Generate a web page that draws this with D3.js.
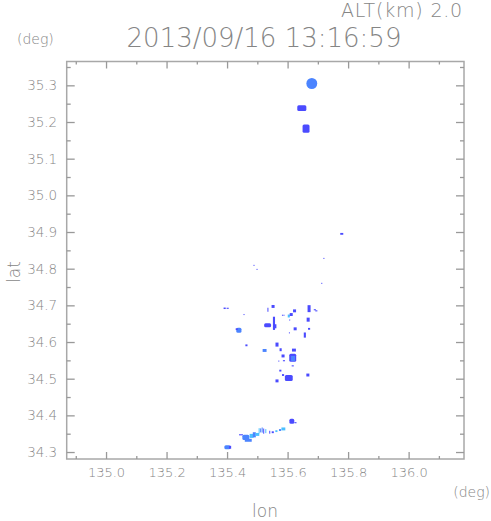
<!DOCTYPE html>
<html>
<head>
<meta charset="utf-8">
<script src="https://cdn.jsdelivr.net/npm/d3@7"></script>
<style>
  body { margin: 0; background: #fff; }
  text { font-family: "DejaVu Sans", sans-serif; font-weight: 200; fill: #858585; }
  .axis path { display: none; }
  .axis line { stroke: #999; stroke-width: 1.3; }
</style>
</head>
<body>
<svg id="chart" width="491" height="521"></svg>
<script>
// ticks
const lonTicks = [135.0, 135.2, 135.4, 135.6, 135.8, 136.0];
const lonMinor = [134.9, 135.1, 135.3, 135.5, 135.7, 135.9, 136.1];
const latTicks = [34.3, 34.4, 34.5, 34.6, 34.7, 34.8, 34.9, 35.0, 35.1, 35.2, 35.3];
const latMinor = [34.35, 34.45, 34.55, 34.65, 34.75, 34.85, 34.95, 35.05, 35.15, 35.25, 35.35];

// echo cells: [lon, lat, width(deg lon), height(deg lat), level]
const echoTop = [
  [135.680, 35.305, 0.036, 0.030, 2],
  [135.647, 35.238, 0.030, 0.016, 1],
  [135.661, 35.182, 0.023, 0.022, 1],
  [135.779, 34.895, 0.010, 0.005, 1],
  [135.720, 34.828, 0.0033, 0.003, 1],
  [135.713, 34.760, 0.0033, 0.003, 1],
  [135.489, 34.809, 0.0033, 0.003, 1],
  [135.499, 34.798, 0.0033, 0.003, 1]
];
const echoMid = [
  [135.392, 34.692, 0.007, 0.004, 1],
  [135.402, 34.692, 0.007, 0.003, 1],
  [135.456, 34.675, 0.0033, 0.003, 1],
  [135.439, 34.632, 0.017, 0.014, 2],
  [135.432, 34.635, 0.007, 0.005, 1],
  [135.464, 34.591, 0.007, 0.005, 1],
  [135.552, 34.697, 0.010, 0.008, 1],
  [135.535, 34.688, 0.0033, 0.011, 1],
  [135.534, 34.646, 0.023, 0.011, 1],
  [135.555, 34.651, 0.007, 0.036, 1],
  [135.558, 34.643, 0.010, 0.011, 1],
  [135.583, 34.673, 0.0033, 0.003, 1],
  [135.588, 34.673, 0.0033, 0.003, 1],
  [135.604, 34.671, 0.007, 0.008, 3],
  [135.612, 34.675, 0.010, 0.008, 1],
  [135.607, 34.660, 0.0033, 0.003, 1],
  [135.623, 34.685, 0.010, 0.008, 1],
  [135.625, 34.636, 0.010, 0.008, 1],
  [135.606, 34.625, 0.0033, 0.003, 1],
  [135.671, 34.691, 0.010, 0.019, 1],
  [135.690, 34.688, 0.007, 0.003, 1],
  [135.695, 34.685, 0.007, 0.003, 1],
  [135.668, 34.661, 0.010, 0.011, 1],
  [135.671, 34.636, 0.007, 0.005, 1],
  [135.657, 34.619, 0.007, 0.014, 1],
  [135.565, 34.593, 0.010, 0.011, 1],
  [135.577, 34.579, 0.007, 0.008, 1],
  [135.524, 34.577, 0.013, 0.008, 2],
  [135.621, 34.578, 0.013, 0.008, 1],
  [135.585, 34.562, 0.010, 0.008, 1],
  [135.617, 34.557, 0.023, 0.022, 1],
  [135.618, 34.555, 0.013, 0.014, 2],
  [135.588, 34.549, 0.007, 0.003, 1],
  [135.571, 34.548, 0.0033, 0.003, 1],
  [135.617, 34.535, 0.007, 0.003, 1],
  [135.576, 34.522, 0.007, 0.005, 1],
  [135.585, 34.510, 0.007, 0.005, 1],
  [135.604, 34.502, 0.026, 0.016, 1],
  [135.565, 34.494, 0.010, 0.008, 1],
  [135.667, 34.510, 0.010, 0.008, 1]
];
const echoLow = [
  [135.614, 34.384, 0.016, 0.014, 1],
  [135.626, 34.380, 0.007, 0.003, 1],
  [135.401, 34.313, 0.020, 0.011, 2],
  [135.410, 34.313, 0.007, 0.008, 1],
  [135.446, 34.347, 0.013, 0.003, 1],
  [135.462, 34.340, 0.023, 0.014, 2],
  [135.470, 34.332, 0.023, 0.008, 2],
  [135.481, 34.344, 0.013, 0.011, 3],
  [135.490, 34.347, 0.010, 0.014, 2],
  [135.500, 34.348, 0.013, 0.008, 3],
  [135.506, 34.358, 0.0033, 0.014, 3],
  [135.511, 34.359, 0.0033, 0.011, 2],
  [135.516, 34.360, 0.0033, 0.014, 2],
  [135.521, 34.357, 0.0033, 0.014, 1],
  [135.528, 34.357, 0.0033, 0.011, 3],
  [135.541, 34.354, 0.0033, 0.008, 1],
  [135.551, 34.354, 0.007, 0.005, 1],
  [135.563, 34.357, 0.007, 0.005, 3],
  [135.575, 34.360, 0.007, 0.005, 2],
  [135.586, 34.363, 0.013, 0.008, 3]
];

const levelColor = d3.scaleOrdinal().domain([1, 2, 3]).range(["#4b4bff", "#4b84ff", "#4cc0ff"]);

const svg = d3.select("#chart");
const plotL = 66.7, plotR = 464, plotT = 61.5, plotB = 459;

const x = d3.scaleLinear().domain([134.870, 136.183]).range([plotL, plotR]);
const y = d3.scaleLinear().domain([34.281, 35.365]).range([plotB, plotT]);

// echoes
const cells = echoTop.concat(echoMid, echoLow);
svg.append("g").selectAll("rect")
  .data(cells)
  .join("rect")
  .attr("x", d => x(d[0] - d[2] / 2))
  .attr("y", d => y(d[1] + d[3] / 2))
  .attr("width", d => Math.max(1, x(d[0] + d[2] / 2) - x(d[0] - d[2] / 2)))
  .attr("height", d => Math.max(1, y(d[1] - d[3] / 2) - y(d[1] + d[3] / 2)))
  .attr("rx", d => {
    const m = Math.min(x(d[2]) - x(0), y(0) - y(d[3]));
    return m > 8 ? m / 2 : (m > 4 ? 1.5 : 0);
  })
  .attr("fill", d => levelColor(d[4]));

// frame
svg.append("rect")
  .attr("x", plotL).attr("y", plotT)
  .attr("width", plotR - plotL).attr("height", plotB - plotT)
  .attr("fill", "none").attr("stroke", "#a8a8a8").attr("stroke-width", 1.5);

// axes
svg.append("g").attr("class", "axis").attr("transform", `translate(0,${plotB})`)
  .call(d3.axisBottom(x).tickValues(lonTicks).tickSize(-7).tickPadding(9).tickFormat(d3.format(".1f")))
  .selectAll("text").style("font-size", "13px").attr("fill", "#858585");
svg.append("g").attr("class", "axis").attr("transform", `translate(0,${plotB})`)
  .call(d3.axisBottom(x).tickValues(lonMinor).tickSize(-3).tickFormat(""));
svg.append("g").attr("class", "axis").attr("transform", `translate(0,${plotT})`)
  .call(d3.axisTop(x).tickValues(lonTicks).tickSize(-7).tickFormat(""));
svg.append("g").attr("class", "axis").attr("transform", `translate(0,${plotT})`)
  .call(d3.axisTop(x).tickValues(lonMinor).tickSize(-3).tickFormat(""));

svg.append("g").attr("class", "axis").attr("transform", `translate(${plotL},0)`)
  .call(d3.axisLeft(y).tickValues(latTicks).tickSize(-8).tickPadding(9.5).tickFormat(d3.format(".1f")))
  .selectAll("text").style("font-size", "13.5px").attr("fill", "#858585");
svg.append("g").attr("class", "axis").attr("transform", `translate(${plotL},0)`)
  .call(d3.axisLeft(y).tickValues(latMinor).tickSize(-4).tickFormat(""));
svg.append("g").attr("class", "axis").attr("transform", `translate(${plotR},0)`)
  .call(d3.axisRight(y).tickValues(latTicks).tickSize(-8).tickFormat(""));
svg.append("g").attr("class", "axis").attr("transform", `translate(${plotR},0)`)
  .call(d3.axisRight(y).tickValues(latMinor).tickSize(-4).tickFormat(""));

// labels
svg.append("text").attr("x", 463).attr("y", 17).attr("text-anchor", "end")
  .style("font-size", "19px").style("letter-spacing", "0.8px").text("ALT(km) 2.0");
svg.append("text").attr("x", 264).attr("y", 47).attr("text-anchor", "middle")
  .style("font-size", "26px").text("2013/09/16 13:16:59");
svg.append("text").attr("x", 17).attr("y", 44)
  .style("font-size", "14px").text("(deg)");
svg.append("text").attr("x", 490).attr("y", 497).attr("text-anchor", "end")
  .style("font-size", "14px").text("(deg)");
svg.append("text").attr("x", 265).attr("y", 517).attr("text-anchor", "middle")
  .style("font-size", "17px").text("lon");
svg.append("text").attr("transform", "translate(20,272) rotate(-90)").attr("text-anchor", "middle")
  .style("font-size", "17px").text("lat");
</script>
</body>
</html>
